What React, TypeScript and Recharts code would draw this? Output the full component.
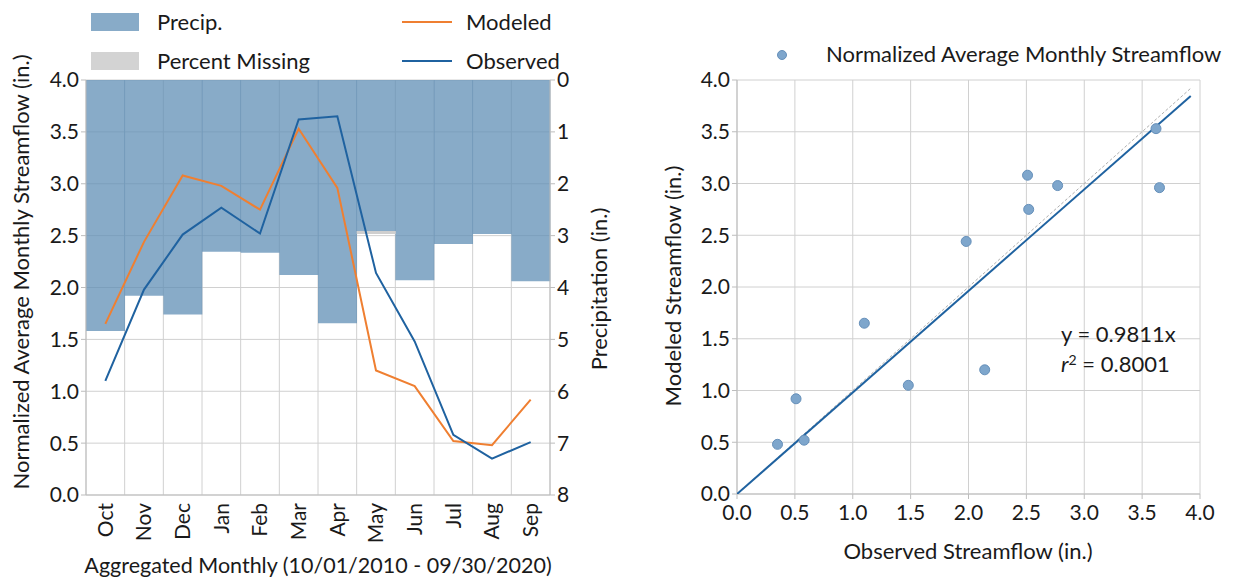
import React from 'react';
import {
    Bar, CartesianGrid, ComposedChart, Line, Scatter, ScatterChart, XAxis, YAxis
} from 'recharts';

const months = ['Oct', 'Nov', 'Dec', 'Jan', 'Feb', 'Mar', 'Apr', 'May', 'Jun', 'Jul', 'Aug', 'Sep'];
const precip = [4.84, 4.16, 4.52, 3.31, 3.33, 3.76, 4.69, 2.91, 3.86, 3.16, 2.97, 3.88];
const percentMissing = [0, 0, 0, 0, 0, 0, 0, 0.06, 0, 0, 0, 0];
const modeled = [1.65, 2.44, 3.08, 2.98, 2.75, 3.53, 2.96, 1.20, 1.05, 0.52, 0.48, 0.92];
const observed = [1.10, 1.98, 2.51, 2.77, 2.52, 3.62, 3.65, 2.14, 1.48, 0.58, 0.35, 0.51];

const flowTicks = [0, 0.5, 1, 1.5, 2, 2.5, 3, 3.5, 4];
const precipTicks = [0, 1, 2, 3, 4, 5, 6, 7, 8];

const slope = 0.9811;
const r2 = 0.8001;
const lineEnd = 3.92;

const FONT = 'Lato, sans-serif';
const TEXT = '#1a1a1a';
const SPINE = '#bdbdbd';
const GRID = '#d0d0d0';
const ORANGE = '#ef7f31';
const BLUE = '#1f62a0';
const LABEL = 22;
const TICK = 21;

const leftData = months.map((m, i) => ({
    month: m,
    precip: precip[i],
    missing: percentMissing[i],
    modeled: modeled[i],
    observed: observed[i],
}));

const scatterData = observed.map((o, i) => ({x: o, y: modeled[i]}));
const fitData = [{x: 0, y: 0}, {x: lineEnd, y: slope * lineEnd}];
const oneToOne = [{x: 0, y: 0}, {x: lineEnd, y: lineEnd}];

const MonthTick = (props) => {
    const {x, y, payload} = props;
    return (
        <text x={x} y={y} dy="0.35em" textAnchor="end" fontSize={TICK} fill={TEXT}
              transform={`rotate(-90, ${x}, ${y})`}>
            {payload.value}
        </text>
    );
};

const tickStyle = {fontSize: TICK, fill: TEXT};

const abs = (left, top, extra = {}) => ({position: 'absolute' as const, left, top, ...extra});

export default function App() {
    return (
        <div style={{position: 'absolute', left: 0, top: 0, width: 1233, height: 581,
            background: '#fff', fontFamily: FONT, color: TEXT}}>

            {/* left: monthly streamflow + precip */}
            <div style={abs(0, 0)}>
                <ComposedChart width={620} height={581} data={leftData}
                               margin={{top: 80, right: 30, bottom: 26, left: 26}}
                               barCategoryGap={0} barGap={0}>
                    <CartesianGrid stroke={GRID} yAxisId="flow"
                                   verticalCoordinatesGenerator={({offset}) =>
                                       Array.from({length: months.length + 1},
                                           (_, i) => offset.left + i * offset.width / months.length)}/>
                    <XAxis dataKey="month" height={60} interval={0} tickLine={false}
                           axisLine={{stroke: SPINE}} tick={<MonthTick/>}/>
                    <YAxis yAxisId="flow" domain={[0, 4]} ticks={flowTicks} width={60}
                           tickFormatter={(v) => v.toFixed(1)} tick={tickStyle} tickSize={5}
                           tickLine={{stroke: SPINE}} axisLine={{stroke: SPINE}}/>
                    <YAxis yAxisId="precip" orientation="right" reversed domain={[0, 8]}
                           ticks={precipTicks} width={40} tick={tickStyle} tickSize={5}
                           tickLine={{stroke: SPINE}} axisLine={{stroke: SPINE}}/>
                    <Bar yAxisId="precip" dataKey="precip" stackId="p" fill="#608fb5"
                         fillOpacity={0.75} isAnimationActive={false}/>
                    <Bar yAxisId="precip" dataKey="missing" stackId="p" fill="#cfcfcf"
                         isAnimationActive={false}/>
                    <Line yAxisId="flow" dataKey="modeled" stroke={ORANGE} strokeWidth={2}
                          dot={false} isAnimationActive={false}/>
                    <Line yAxisId="flow" dataKey="observed" stroke={BLUE} strokeWidth={2}
                          dot={false} isAnimationActive={false}/>
                </ComposedChart>
            </div>

            {/* left legend */}
            <div style={abs(91, 13, {width: 48, height: 18, background: '#88abc8'})}/>
            <div style={abs(157, 8, {fontSize: LABEL})}>Precip.</div>
            <div style={abs(91, 52, {width: 48, height: 18, background: '#d3d3d3'})}/>
            <div style={abs(157, 47, {fontSize: LABEL})}>Percent Missing</div>
            <div style={abs(402, 21, {width: 50, height: 2, background: ORANGE})}/>
            <div style={abs(466, 8, {fontSize: LABEL})}>Modeled</div>
            <div style={abs(402, 60, {width: 50, height: 2, background: BLUE})}/>
            <div style={abs(466, 47, {fontSize: LABEL})}>Observed</div>

            {/* left axis titles */}
            <div style={abs(20, 272, {fontSize: LABEL, whiteSpace: 'nowrap',
                transform: 'translate(-50%, -50%) rotate(-90deg)'})}>
                Normalized Average Monthly Streamflow (in.)
            </div>
            <div style={abs(598, 289, {fontSize: LABEL, whiteSpace: 'nowrap',
                transform: 'translate(-50%, -50%) rotate(-90deg)'})}>
                Precipitation (in.)
            </div>
            <div style={abs(318, 565, {fontSize: 21.5, whiteSpace: 'nowrap',
                transform: 'translate(-50%, -50%)'})}>
                Aggregated Monthly (10/01/2010 - 09/30/2020)
            </div>

            {/* right: modeled vs observed */}
            <div style={abs(620, 0)}>
                <ScatterChart width={613} height={581}
                              margin={{top: 80, right: 33, bottom: 47, left: 57}}>
                    <CartesianGrid stroke={GRID}/>
                    <XAxis type="number" dataKey="x" domain={[0, 4]} ticks={flowTicks} height={40}
                           tickFormatter={(v) => v.toFixed(1)} tick={tickStyle} tickSize={5}
                           tickMargin={6} tickLine={{stroke: SPINE}} axisLine={{stroke: SPINE}}
                           allowDataOverflow/>
                    <YAxis type="number" dataKey="y" domain={[0, 4]} ticks={flowTicks} width={60}
                           tickFormatter={(v) => v.toFixed(1)} tick={tickStyle} tickSize={5}
                           tickLine={{stroke: SPINE}} axisLine={{stroke: SPINE}}
                           allowDataOverflow/>
                    <Scatter data={oneToOne} line={{stroke: '#b0b0b0', strokeWidth: 1, strokeDasharray: '3 2'}}
                             shape={() => <g/>} isAnimationActive={false}/>
                    <Scatter data={fitData} line={{stroke: BLUE, strokeWidth: 2}}
                             shape={() => <g/>} isAnimationActive={false}/>
                    <Scatter data={scatterData} fill="#7ea6cc" stroke="#6690ba" strokeWidth={1}
                             shape={(p) => <circle cx={p.cx} cy={p.cy} r={5} fill="#7ea6cc"
                                                   stroke="#6690ba" strokeWidth={1}/>}
                             isAnimationActive={false}/>
                </ScatterChart>
            </div>

            {/* right legend */}
            <div style={abs(777, 50, {width: 10, height: 10, borderRadius: 5,
                background: '#7ea6cc', boxSizing: 'border-box', border: '1px solid #6690ba'})}/>
            <div style={abs(826, 40, {fontSize: LABEL, whiteSpace: 'nowrap'})}>
                Normalized Average Monthly Streamflow
            </div>

            {/* fit annotation */}
            <div style={abs(1061, 323, {fontSize: 22, lineHeight: '22px', whiteSpace: 'nowrap'})}>
                y = {slope}x
            </div>
            <div style={abs(1061, 353, {fontSize: 22, lineHeight: '22px', whiteSpace: 'nowrap'})}>
                <i>r</i>
                <span style={{fontSize: 14, position: 'relative', top: -7, lineHeight: 0}}>2</span>
                {' '}= {r2.toFixed(4)}
            </div>

            {/* right axis titles */}
            <div style={abs(672, 286, {fontSize: LABEL, whiteSpace: 'nowrap',
                transform: 'translate(-50%, -50%) rotate(-90deg)'})}>
                Modeled Streamflow (in.)
            </div>
            <div style={abs(968, 550, {fontSize: LABEL, whiteSpace: 'nowrap',
                transform: 'translate(-50%, -50%)'})}>
                Observed Streamflow (in.)
            </div>
        </div>
    );
}
